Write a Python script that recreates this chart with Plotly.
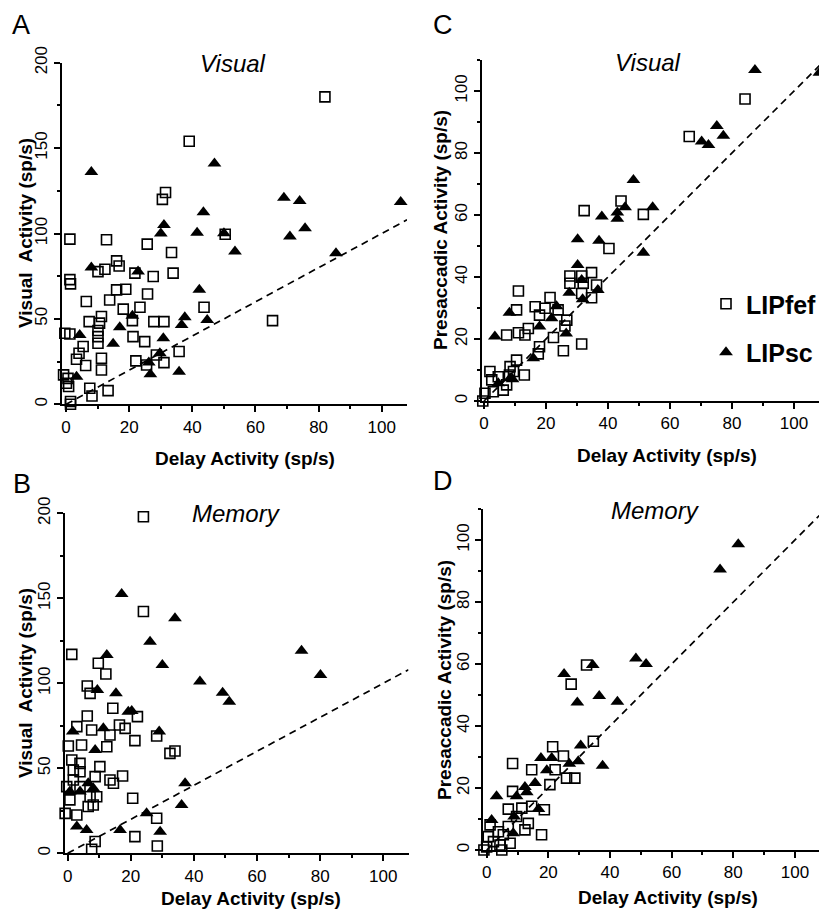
import plotly.graph_objects as go

# ---------------- data ----------------
# Panel A: Visual task, visual activity vs delay activity
a_fef_x = [82, 39, 31.5, 30.5, 50.4, 1.2, 12.8, 25.7, 33.4, 1.2, 1.4, 10.1, 12.3, 16, 16.8, 21.8, 27.6, 33.9,
           16, 18.9, 25.8, 6.4, 13.8, 18.1, 23.4, 43.7, 7.3, 11.2, 10.6, 21, 27.8, 31, 65.4, -0.4, 1.2,
           10.1, 10.1, 10.1, 5.4, 21.2, 24.9, 35.8, 3.3, 11.2, 11.2, 6.2, 4.1, 28.6, 22.1, 31, 25.5,
           -0.8, 0.6, 0.1, 0.8, 7.5, 13.3, 8.2, 1.4, 1.4]
a_fef_y = [180, 154, 124, 120, 99.6, 96.7, 96.3, 93.8, 88.9, 73, 70.5, 77.7, 79.1, 84, 81, 76.8, 74.8, 76.8,
           67, 67.4, 64.6, 60.2, 61.1, 55.7, 56.8, 56.8, 48.4, 51.4, 47.5, 49, 48.4, 48.4, 49, 41.6, 41.2,
           43.2, 39.6, 35.7, 33.8, 39.6, 36.7, 30.9, 26.4, 27, 20.1, 22.7, 29.9, 28.9, 25.4, 24.4, 23,
           17.2, 15.2, 12.3, 10.4, 9.4, 8, 4.9, 1.6, 0]
a_sc_x = [8, 47, 43.5, 69, 74, 106, 31, 30, 41.5, 50, 53.5, 70.9, 75.7, 85.5, 8, 22.8, 21, 17, 37.6, 36.6,
          44.7, 4.3, 14.9, 30.8, 29.7, 26.2, 26.7, 35.8, 3.3, 42.2]
a_sc_y = [136, 141, 112.5, 121, 119, 118.5, 105, 100, 100.5, 100.2, 89.5, 98.2, 103.1, 88.5, 80.1, 77.7,
          51.8, 45.1, 51, 46.5, 49.4, 40.6, 35.4, 38.7, 29.9, 24.4, 17.6, 19.1, 16.2, 67]

# Panel B: Memory task, visual activity vs delay activity
b_fef_x = [24, 24, 1.3, 9.7, 12.1, 6.2, 7.1, 14.3, 22.1, 18.2, 16.4, 6.2, 2.9, 7.6, 13.4, 12.4, 28.2, 21.3,
           32.4, 34, 4.4, 0.2, 1.3, 3.9, 10.2, 1.8, 3.9, 1.8, -0.3, 3.9, 8.7, 13.4, 14.5, 17.4, 7.1, 9.2,
           0.7, 20.6, 6.5, 8.1, -0.8, 2.9, 28.2, 21.3, 28.4, 8.7, 7.6]
b_fef_y = [198, 142.2, 117, 111.8, 105.5, 98.4, 94.1, 85.3, 80.4, 73.5, 75.5, 80.8, 74.5, 72.5, 69.6, 62.7,
           69, 66.3, 58.8, 60.2, 63.7, 63.1, 54.9, 52.9, 51, 49, 48, 43.1, 39.2, 39.2, 45.1, 43.1, 41.2,
           45.5, 33.3, 33.3, 31.4, 32.4, 27.5, 28.4, 23.5, 22.5, 20.6, 9.8, 4.3, 6.9, 2.4]
b_sc_x = [17.1, 34, 26.1, 74.1, 12.4, 30, 80.1, 41.9, 49.1, 51.2, 9.4, 15.3, 19.2, 20.3, 1.6, 11.3, 29,
          8.7, 6.5, 8.1, 0.7, 3.9, 25, 37.2, 36.1, 2.9, 6, 16.6, 29.3]
b_sc_y = [152.5, 138.2, 124.5, 119.2, 116.7, 110.8, 104.9, 101, 94.5, 89.2, 96.1, 94.1, 83.3, 83.7, 71.6,
          73.5, 71.6, 60.8, 41.2, 38.2, 36.3, 36.3, 23.5, 41.2, 28.4, 15.7, 13.7, 13.7, 12.7]

# Panel C: Visual task, presaccadic activity vs delay activity
c_fef_x = [84.2, 66.2, 44.2, 32.3, 51.4, 40.3, 27.7, 31.5, 34.7, 36.3, 34.7, 31.5, 11.1, 27.7, 10.5, 7.3,
           11.1, 16.5, 21.3, 19.7, 17.9, 23.9, 26.7, 26.1, 22.4, 25.6, 31.5, 14.3, 13.2, 17.5, 10.5, 8.4,
           13, 1.9, 2.5, 4.6, 7.3, 8.2, 0.3, -0.4, 3, 6.2, 9.5, 17.9, 32]
c_fef_y = [97.4, 85.3, 64.5, 61.4, 60.2, 49.2, 40.3, 40.3, 41.4, 37.4, 33.3, 34.7, 35.5, 38, 29.4, 21.3,
           22, 30.4, 33.4, 29.9, 27.7, 29.4, 26.1, 24.2, 20.5, 16.2, 18.4, 23.4, 21.3, 15.2, 13.2, 11.1,
           8.4, 9.5, 6.8, 7.8, 5.2, 8.4, 2.5, 0, 3, 3.5, 9.5, 17.5, 38]
c_sc_x = [87.4, 108.2, 70.2, 72.4, 75.1, 77.2, 48.2, 38, 43, 45.5, 54.4, 43, 30.2, 37.1, 51.4, 30.2, 31.5,
          36.7, 31.8, 27.5, 8.2, 3.5, 23.4, 21.8, 17.9, 26.5, 15.9, 4.6, 8.4, 9.2]
c_sc_y = [106.8, 105.9, 83.7, 82.6, 88.7, 85.6, 71.3, 59.5, 60.8, 62.5, 62.5, 58.8, 52.2, 51.7, 47.8, 43.9,
          39, 35.8, 32.8, 34.9, 28.5, 20.8, 30.6, 26.7, 24, 21.8, 13.8, 5.7, 7.3, 7]

# Panel D: Memory task, presaccadic activity vs delay activity
d_fef_x = [32.4, 27.4, 34.6, 21.4, 24.9, 8.4, 14.6, 22.2, 25.9, 28.6, 20.5, 8.4, 14.6, 18.7, 11.4, 7,
           17.8, 13.5, 12.4, 0, 0.5, 2.2, 4.3, 5.4, 7.6, 7, 3.8, -0.9, 4.9, 1.1, 9.7]
d_fef_y = [59.7, 53.5, 35.1, 33.3, 30.3, 27.9, 25.9, 25.9, 23.2, 23.2, 21.1, 18.9, 14.1, 13, 13.5, 13.2,
           4.9, 8.6, 6.5, 1, 4.3, 2.7, 1.6, 4.9, 2.2, 7.6, 5.9, 0, 0, 8.1, 10.8]
d_sc_x = [81.6, 75.7, 48.4, 51.7, 34.4, 25.1, 36.5, 29.4, 42.4, 30.5, 37.6, 17.6, 21.1, 26.8, 29.7, 19.5,
          15.7, 12.4, 3.2, 9.7, 13, 16.8, 1.6, 8.6, 8.9]
d_sc_y = [98.6, 90.5, 61.8, 60, 59.7, 56.8, 49.7, 47.6, 47.8, 33.7, 27.2, 29.7, 29.7, 27.8, 28.6, 25.7,
          21.6, 20.3, 17.3, 17.3, 18.6, 13.2, 9.7, 5.4, 10.8]

x_ticks = [0, 20, 40, 60, 80, 100]
y_ticks_vis = [0, 50, 100, 150, 200]
y_ticks_pre = [0, 20, 40, 60, 80, 100]
unity = [0, 110]

panel_letters = ["A", "B", "C", "D"]
panel_titles = ["Visual", "Memory", "Visual", "Memory"]
x_title = "Delay Activity (sp/s)"
y_titles = ["Visual  Activity (sp/s)", "Visual  Activity (sp/s)",
            "Presaccadic Activity (sp/s)", "Presaccadic Activity (sp/s)"]
series_names = ["LIPfef", "LIPsc"]

# ---------------- layout helpers ----------------
W, H = 827, 911
OFF = 8  # page body margin of the generated HTML
FONT = "Liberation Sans, Arial, Helvetica, sans-serif"


def fx(p):
    return (p - OFF) / W


def fy(p):
    return 1 - (p - OFF) / H


panels = [
    dict(xa="x", ya="y", data=(a_fef_x, a_fef_y, a_sc_x, a_sc_y), xdom=[62, 407], ydom=[404.3, 62.7],
         xr=[-1.3, 108], yr=[0, 200], yt=y_ticks_vis, ymin=25, unity=[0, 108]),
    dict(xa="x2", ya="y2", data=(b_fef_x, b_fef_y, b_sc_x, b_sc_y), xdom=[65, 408.5], ydom=[853.3, 513.3],
         xr=[-0.85, 108], yr=[0, 200], yt=y_ticks_vis, ymin=25, unity=[0, 108]),
    dict(xa="x3", ya="y3", data=(c_fef_x, c_fef_y, c_sc_x, c_sc_y), xdom=[481.7, 825], ydom=[401, 60],
         xr=[-0.75, 110], yr=[0, 110], yt=y_ticks_pre, ymin=10, unity=unity),
    dict(xa="x4", ya="y4", data=(d_fef_x, d_fef_y, d_sc_x, d_sc_y), xdom=[483.3, 825.8], ydom=[850, 509],
         xr=[-1.1, 110], yr=[0, 110], yt=y_ticks_pre, ymin=10, unity=unity),
]

fig = go.Figure()

for i, p in enumerate(panels):
    fx_, fy_, sx_, sy_ = p["data"]
    fig.add_trace(go.Scatter(
        x=p["unity"], y=p["unity"], mode="lines", xaxis=p["xa"], yaxis=p["ya"],
        line=dict(color="black", width=1.7, dash="7px,5px"), showlegend=False, hoverinfo="skip"))
    fig.add_trace(go.Scatter(
        x=fx_, y=fy_, mode="markers", xaxis=p["xa"], yaxis=p["ya"], name=series_names[0],
        marker=dict(symbol="square-open", size=10, color="black", line=dict(width=1.6, color="black")),
        cliponaxis=False, showlegend=(i == 2), legendgroup="g1"))
    fig.add_trace(go.Scatter(
        x=sx_, y=sy_, mode="markers", xaxis=p["xa"], yaxis=p["ya"], name=series_names[1],
        marker=dict(symbol="triangle-up", size=12, color="black", line=dict(width=0)),
        cliponaxis=False, showlegend=(i == 2), legendgroup="g2"))

layout = dict(
    width=W, height=H, margin=dict(l=0, r=0, t=0, b=0, autoexpand=False),
    paper_bgcolor="white", plot_bgcolor="white",
    font=dict(family=FONT, color="black"),
    showlegend=True,
    legend=dict(x=fx(706), y=fy(281), xanchor="left", yanchor="top", bgcolor="rgba(0,0,0,0)",
                font=dict(family=FONT, size=25, weight="bold", color="black"),
                tracegroupgap=13, itemsizing="trace"),
)

axis_common = dict(showline=True, linecolor="black", linewidth=2, ticks="outside", ticklen=6, tickwidth=1.5,
                   tickcolor="black", showgrid=False, zeroline=False, automargin=False,
                   tickfont=dict(family=FONT, size=17))

for i, p in enumerate(panels):
    xk = "xaxis" if p["xa"] == "x" else "xaxis" + p["xa"][1:]
    yk = "yaxis" if p["ya"] == "y" else "yaxis" + p["ya"][1:]
    layout[xk] = dict(axis_common, domain=[fx(p["xdom"][0]), fx(p["xdom"][1])], range=p["xr"],
                      anchor=p["ya"], tickvals=x_ticks,
                      minor=dict(dtick=10, tick0=0, ticks="outside", ticklen=3, tickwidth=1.5, tickcolor="black"))
    layout[yk] = dict(axis_common, domain=[fy(p["ydom"][0]), fy(p["ydom"][1])], range=p["yr"],
                      anchor=p["xa"], tickvals=p["yt"], tickangle=-90,
                      minor=dict(dtick=p["ymin"], tick0=0, ticks="outside", ticklen=3, tickwidth=1.5,
                                 tickcolor="black"))

fig.update_layout(**layout)

ann = []
letter_pos = [(21, 25), (22, 484), (443, 25), (443, 481)]
title_pos = [(233, 63), (237, 513), (648, 62), (655, 511)]
xtitle_pos = [(245, 458), (251, 898), (667, 455), (668, 897)]
ytitle_pos = [(25, 233), (25, 683), (441, 230), (444, 680)]
for i in range(4):
    ann.append(dict(text=panel_letters[i], x=fx(letter_pos[i][0]), y=fy(letter_pos[i][1]), xref="paper",
                    yref="paper", showarrow=False, xanchor="center", yanchor="middle",
                    font=dict(family=FONT, size=27, color="black")))
    ann.append(dict(text="<i>" + panel_titles[i] + "</i>", x=fx(title_pos[i][0]), y=fy(title_pos[i][1]),
                    xref="paper", yref="paper", showarrow=False, xanchor="center", yanchor="middle",
                    font=dict(family=FONT, size=24, color="black")))
    ann.append(dict(text=x_title, x=fx(xtitle_pos[i][0]), y=fy(xtitle_pos[i][1]), xref="paper",
                    yref="paper", showarrow=False, xanchor="center", yanchor="middle",
                    font=dict(family=FONT, size=19, weight="bold", color="black")))
    ann.append(dict(text=y_titles[i].replace("  ", "&nbsp; "), x=fx(ytitle_pos[i][0]), y=fy(ytitle_pos[i][1]),
                    xref="paper", yref="paper", showarrow=False, xanchor="center", yanchor="middle",
                    textangle=-90, font=dict(family=FONT, size=19, weight="bold", color="black")))
fig.update_layout(annotations=ann)

fig.write_html("out.html")
